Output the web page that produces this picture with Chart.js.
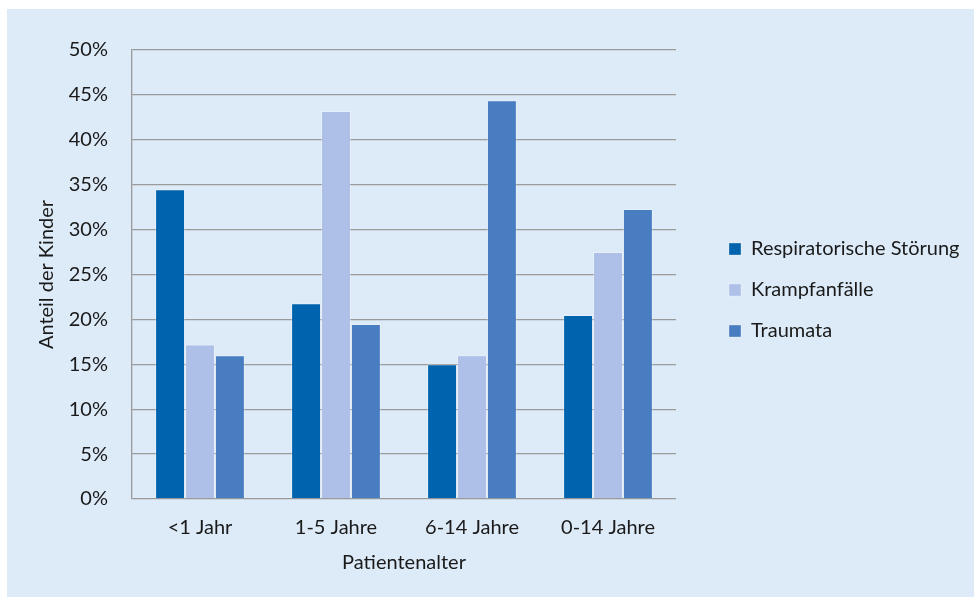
<!DOCTYPE html>
<html>
<head>
<meta charset="utf-8">
<script src="https://cdn.jsdelivr.net/npm/chart.js@4"></script>
<style>
  body { margin: 0; background: #fff; }
  #panel { position: absolute; left: 7px; top: 9px; width: 967px; height: 588px; background: #ddeaf7; }
</style>
</head>
<body>
<div id="panel"><canvas id="chart" width="967" height="588"></canvas></div>
<script>
// data
const ageGroups = ["<1 Jahr", "1-5 Jahre", "6-14 Jahre", "0-14 Jahre"];
const respiratory = [34.5, 21.8, 15.0, 20.5];
const seizures = [17.2, 43.2, 16.0, 27.5];
const trauma = [16.0, 19.5, 44.4, 32.3];

const textColor = "#1a1a1a";
const gridColor = "#9a9a9a";
const font = { family: "Lato", size: 20 };

// move the legend a bit away from the plot, like in the original
const legendShift = {
  id: "legendShift",
  afterLayout(chart) {
    const lg = chart.legend;
    lg.left = chart.chartArea.right + 32;
    lg.right = lg.left + 260;
    lg.width = 260;
    const h = lg.height;
    lg.top = 209;
    lg.bottom = lg.top + h;
  }
};

const ctx = document.getElementById("chart").getContext("2d");
new Chart(ctx, {
  type: "bar",
  data: {
    labels: ageGroups,
    datasets: [
      { label: "Respiratorische Störung", data: respiratory, backgroundColor: "#0063ad" },
      { label: "Krampfanfälle", data: seizures, backgroundColor: "#aebfe8" },
      { label: "Traumata", data: trauma, backgroundColor: "#487ec1" }
    ]
  },
  options: {
    responsive: false,
    animation: false,
    layout: { padding: { top: 41, right: 75, bottom: 0, left: 0 } },
    datasets: {
      bar: {
        categoryPercentage: 0.66,
        barPercentage: 1,
        borderWidth: 1,
        borderColor: "rgba(255,255,255,0.3)"
      }
    },
    plugins: {
      legend: {
        position: "right",
        align: "start",
        labels: {
          color: textColor,
          font: font,
          boxWidth: 12,
          boxHeight: 12,
          padding: 21
        }
      },
      tooltip: { enabled: false }
    },
    scales: {
      x: {
        grid: { display: false },
        border: { display: false },
        ticks: { color: textColor, font: font, padding: 9 },
        title: { display: true, text: "Patientenalter", color: textColor, font: font, padding: { top: 0, bottom: 22 } },
        afterFit(scale) { scale.height = 98; }
      },
      y: {
        min: 0,
        max: 50,
        ticks: {
          stepSize: 5,
          color: textColor,
          font: font,
          padding: 24,
          callback: v => v + "%"
        },
        grid: { color: gridColor, lineWidth: 1.3, drawTicks: false },
        border: { color: gridColor, width: 1.3 },
        title: { display: true, text: "Anteil der Kinder", color: textColor, font: font, padding: { top: 28, bottom: 0 } },
        afterFit(scale) { scale.width = 125; }
      }
    }
  },
  plugins: [legendShift]
});
</script>
</body>
</html>
